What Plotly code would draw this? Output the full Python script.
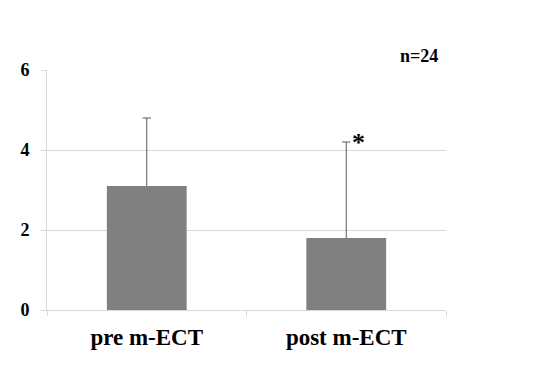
import plotly.graph_objects as go

categories = ["pre m-ECT", "post m-ECT"]
means = [3.1, 1.8]
sd_plus = [1.7, 2.4]
y_ticks = [0, 2, 4, 6]

tops = [m + s for m, s in zip(means, sd_plus)]
grid = "#d9d9d9"
fig = go.Figure()
fig.add_trace(go.Bar(
    x=categories, y=means, width=0.4,
    marker=dict(color="#808080", line=dict(width=0)),
    error_y=dict(type="data", symmetric=False, array=sd_plus,
                 arrayminus=[0, 0], color="#595959", thickness=1, width=0),
))
fig.add_trace(go.Scatter(
    x=categories, y=tops, mode="markers", hoverinfo="skip",
    marker=dict(symbol="line-ew", size=6, line=dict(color="#595959", width=1)),
))
fig.add_annotation(x=1, y=4.2, text="<b>*</b>", showarrow=False, xref="x", yref="y",
                   xshift=12, yshift=0,
                   font=dict(family="Liberation Serif", size=26, color="#000000"))
fig.add_annotation(x=1, y=1, xref="paper", yref="paper", text="<b>n=24</b>",
                   showarrow=False, xanchor="right", yanchor="bottom", xshift=-6, yshift=2,
                   font=dict(family="Liberation Serif", size=18, color="#000000"))
fig.update_layout(
    width=538, height=365, margin=dict(l=31, r=100, t=62, b=63),
    plot_bgcolor="white", paper_bgcolor="white", showlegend=False,
    font=dict(family="Liberation Serif", color="black"),
)
fig.update_xaxes(showline=True, linecolor=grid, linewidth=1, ticks="outside",
                 tickson="boundaries", ticklen=5, tickcolor=grid,
                 ticklabelstandoff=6,
                 tickfont=dict(size=23, family="Liberation Serif", weight="bold"),
                 showgrid=False)
fig.update_yaxes(range=[0, 6], tickvals=y_ticks, showline=True, linecolor=grid,
                 linewidth=1, ticks="outside", ticklen=5, tickcolor=grid,
                 gridcolor=grid, zeroline=False, ticklabelstandoff=8,
                 tickfont=dict(size=18, family="Liberation Serif", weight="bold"))
fig.write_html("out.html")
